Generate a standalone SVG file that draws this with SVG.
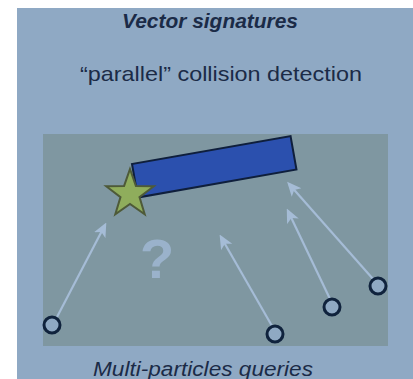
<svg xmlns="http://www.w3.org/2000/svg" width="413" height="379" viewBox="0 0 413 379">
<defs>
<style>
.t{font-family:"Liberation Sans",Arial,sans-serif;fill:#1b2b47}
.a{stroke:#a5bcd6;stroke-width:2.2;fill:none}
.p{fill:#8fa9c3;stroke:#10233d;stroke-width:3}
</style>
<marker id="ah" viewBox="0 0 10 10" refX="8" refY="5" markerWidth="6.5" markerHeight="6.5" markerUnits="strokeWidth" orient="auto">
<path d="M0,0.5 L10,5 L0,9.5 L2.5,5 z" fill="#a5bcd6"/>
</marker>
</defs>
<rect x="17" y="8" width="396" height="371" fill="#8fa9c4"/>
<rect x="43" y="134" width="345" height="212" fill="#7f97a1"/>
<text class="t" x="210" y="28" font-size="20.5" font-weight="bold" font-style="italic" text-anchor="middle" textLength="176" lengthAdjust="spacingAndGlyphs">Vector signatures</text>
<text class="t" x="221" y="81" font-size="21" text-anchor="middle" textLength="282" lengthAdjust="spacingAndGlyphs">“parallel” collision detection</text>
<text class="t" x="203" y="376" font-size="20.5" font-style="italic" text-anchor="middle" textLength="220" lengthAdjust="spacingAndGlyphs">Multi-particles queries</text>
<g id="question"><text x="157" y="278" font-family="Liberation Sans,Arial,sans-serif" font-weight="bold" font-size="56" fill="#9ab2cb" text-anchor="middle">?</text></g>
<g id="bar"><rect x="132" y="164" width="161" height="34" transform="rotate(-10 132 164)" fill="#2b50ae" stroke="#0f1f3c" stroke-width="2"/></g>
<g id="star"><polygon fill="#8fad5c" stroke="#4e5a38" stroke-width="2" points="130,169 135.9,185.9 153.8,186.3 139.5,197.1 144.7,214.2 130,204 115.3,214.2 120.5,197.1 106.2,186.3 124.1,185.9"/></g>
<g id="connectors">
<line class="a" x1="57" y1="317" x2="105" y2="225" marker-end="url(#ah)"/>
<line class="a" x1="272" y1="326" x2="221" y2="237" marker-end="url(#ah)"/>
<line class="a" x1="330" y1="299" x2="288" y2="211" marker-end="url(#ah)"/>
<line class="a" x1="373" y1="279" x2="289" y2="184" marker-end="url(#ah)"/>
</g>
<g id="p1"><circle class="p" cx="52" cy="325" r="8"/></g>
<g id="p2"><circle class="p" cx="275" cy="334" r="8"/></g>
<g id="p3"><circle class="p" cx="332" cy="307" r="8"/></g>
<g id="p4"><circle class="p" cx="378" cy="286" r="8"/></g>
</svg>
